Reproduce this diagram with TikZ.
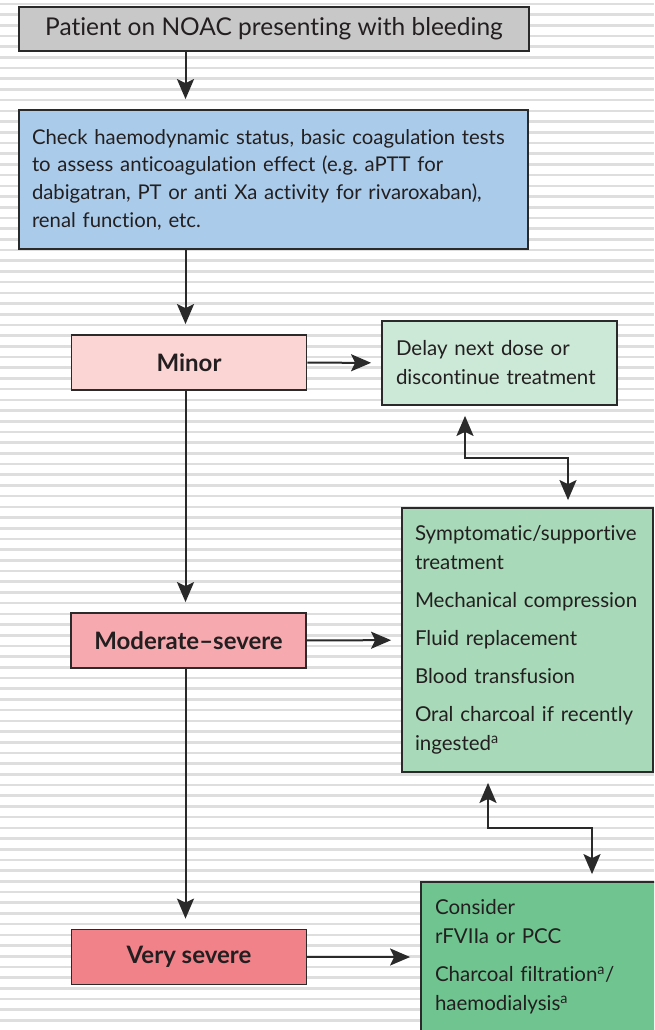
\documentclass[tikz,border=0pt]{standalone}
\usepackage{fontspec}
\setmainfont{Lato}[Ligatures=NoCommon]
\usetikzlibrary{arrows.meta}

\definecolor{edge}{HTML}{2A2A2A}
\definecolor{ink}{HTML}{231F20}
\definecolor{stripe}{HTML}{DEDEDE}
\definecolor{greybox}{HTML}{C8C8C8}
\definecolor{bluebox}{HTML}{AACBE9}
\definecolor{pink1}{HTML}{FBD4D4}
\definecolor{pink2}{HTML}{F6AAAF}
\definecolor{pink3}{HTML}{F2828A}
\definecolor{green1}{HTML}{CCE8D6}
\definecolor{green2}{HTML}{A8D9B8}
\definecolor{green3}{HTML}{70C490}

\tikzstyle{box}=[draw=edge, line width=1.8pt, rectangle, text=ink, inner sep=0pt]
\tikzstyle{grade}=[box, minimum width=235pt, minimum height=55pt, font=\fontsize{24}{28}\selectfont\bfseries]
\tikzstyle{action}=[box, align=left, font=\fontsize{20.5}{29}\selectfont]
\tikzstyle{arrow}=[line width=2pt, draw=edge, -{Stealth[length=20pt, width=17pt, inset=4pt]}, shorten >=10pt]
\tikzstyle{biarrow}=[line width=2pt, draw=edge, {Stealth[length=20pt, width=17pt, inset=4pt]}-{Stealth[length=20pt, width=17pt, inset=4pt]}, shorten <=10pt, shorten >=7pt]

\begin{document}
\begin{tikzpicture}[x=1pt, y=-1pt]
  \useasboundingbox (0,0) rectangle (654,1030);
  \clip (0,0) rectangle (654,1030);
  % striped background
  \foreach \k in {0,...,96}
    \draw[stripe, line width=2.6pt] (0,3.9+10.7*\k) -- (654,3.9+10.7*\k);

  \node[box, fill=greybox, minimum width=510pt, minimum height=44pt, font=\fontsize{24.5}{28}\selectfont] (top) at (274,29) {Patient on NOAC presenting with bleeding};
  \node[action, fill=bluebox, minimum width=509pt, minimum height=139pt, text width=483pt, font=\fontsize{20.3}{27.6}\selectfont] (check) at (273.5,179.5) {Check haemodynamic status, basic coagulation tests\\to assess anticoagulation effect (e.g.\ aPTT for\\dabigatran, PT or anti Xa activity for rivaroxaban),\\renal function, etc.};

  \node[grade, fill=pink1] (minor) at (189,362.5) {Minor};
  \node[grade, fill=pink2] (moderate) at (188.5,640.5) {Moderate--severe};
  \node[grade, fill=pink3] (severe) at (189,957) {Very severe};

  \node[action, fill=green1, minimum width=235pt, minimum height=84pt, text width=207pt] (delay) at (499.5,363) {Delay next dose or\\discontinue treatment};
  \node[action, fill=green2, minimum width=251pt, minimum height=264pt, text width=225pt] (support) at (527.5,640) {Symptomatic/supportive\\treatment\\[9pt]Mechanical compression\\[9pt]Fluid replacement\\[9pt]Blood transfusion\\[9pt]Oral charcoal if recently\\ingested\textsuperscript{a}};
  \node[action, fill=green3, minimum width=250pt, minimum height=150pt, text width=222pt] (consider) at (546,957) {Consider\\rFVIIa or PCC\\[9pt]Charcoal filtration\textsuperscript{a}/\\haemodialysis\textsuperscript{a}};

  \coordinate (spine) at (185.5,0);
  \coordinate (j1) at (465,458);
  \coordinate (j2) at (568,458);
  \coordinate (j3) at (488,828);
  \coordinate (j4) at (592,828);

  \draw[arrow] (top.south -| spine) -- (check.north -| spine);
  \draw[arrow] (check.south -| spine) -- (minor.north -| spine);
  \draw[arrow] (minor.south -| spine) -- (moderate.north -| spine);
  \draw[arrow] (moderate.south -| spine) -- (severe.north -| spine);
  \draw[arrow] (minor) -- (delay);
  \draw[arrow] (moderate) -- (support);
  \draw[arrow] (severe) -- (consider.west |- severe);
  \draw[biarrow] (delay.south -| j1) -- (j1) -- (j2) -- (support.north -| j2);
  \draw[biarrow] (support.south -| j3) -- (j3) -- (j4) -- (consider.north -| j4);
\end{tikzpicture}
\end{document}
